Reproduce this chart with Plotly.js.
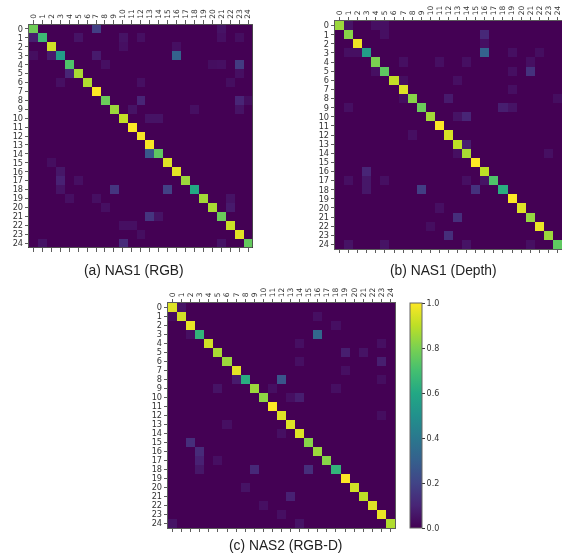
<!DOCTYPE html>
<html><head><meta charset="utf-8">
<script src="https://cdn.plot.ly/plotly-3.0.1.min.js"></script>
<style>html,body{margin:0;padding:0;background:#fff;overflow:hidden}#chart{filter:blur(0.35px)}</style></head>
<body><div id="chart" style="width:562px;height:554px"></div>
<script>
const classes = Array.from({length:25},(_, i)=>i);
const tickLabels = classes.map(String);
const captions = ['(a) NAS1 (RGB)','(b) NAS1 (Depth)','(c) NAS2 (RGB-D)'];

const diagA = [.78,.68,.93,.55,.72,.87,.88,1,.77,.85,.91,1,.99,.99,.75,.95,.96,.85,.6,.86,.87,.77,.92,.96,.76];
const offA = [[0,7,.18],[0,21,.05],[1,0,.08],[1,5,.05],[1,10,.05],[1,12,.04],[1,21,.04],[1,23,.035],[2,10,.04],[2,16,.04],
 [3,0,.035],[3,2,.07],[3,7,.07],[3,16,.31],[4,8,.04],[4,20,.035],[4,21,.04],[4,23,.17],[5,4,.1],[5,23,.04],[6,3,.04],[6,12,.04],[6,22,.035],
 [8,12,.1],[8,23,.1],[8,24,.035],[9,11,.05],[9,18,.04],[9,23,.05],[10,13,.05],[10,14,.05],[14,13,.27],[15,2,.035],[16,3,.06],
 [17,3,.09],[17,5,.04],[18,3,.05],[18,9,.15],[18,15,.19],[19,4,.04],[19,7,.04],[19,22,.05],[20,8,.04],[20,22,.07],
 [21,13,.15],[21,14,.05],[22,10,.04],[22,11,.04],[23,12,.035],[24,1,.05],[24,10,.12],[24,21,.05]];

const diagB = [.85,.82,.98,.55,.8,.75,.91,.95,.82,.77,.86,1,.94,.9,.87,1,.9,.72,.62,1,.95,.84,.97,.85,.75];
const offB = [[0,1,.05],[0,4,.04],[0,5,.04],[1,5,.04],[1,16,.11],[2,16,.04],[3,1,.04],[3,2,.04],[3,16,.31],[3,19,.04],[3,22,.035],
 [4,7,.04],[4,11,.04],[4,14,.04],[4,21,.04],[5,4,.04],[5,19,.04],[5,21,.14],[6,7,.035],[6,13,.04],[7,19,.04],[8,7,.035],[8,12,.07],[8,24,.035],
 [9,1,.04],[9,18,.08],[9,19,.05],[10,13,.05],[10,14,.1],[12,8,.04],[13,14,.08],[14,13,.04],[14,23,.04],[16,3,.1],
 [17,1,.04],[17,3,.06],[17,5,.04],[17,14,.04],[17,16,.05],[18,3,.06],[18,9,.18],[18,15,.14],[20,11,.04],[21,13,.13],[22,10,.035],[23,12,.13],
 [24,1,.05],[24,5,.05],[24,14,.05],[24,21,.04]];

const diagC = [.95,.93,.97,.65,.93,.87,.85,.96,.62,.85,.83,1,.95,.95,.95,.82,.85,.82,.65,1,.93,.9,.95,.97,.88];
const offC = [[0,1,.05],[1,0,.035],[1,16,.04],[2,18,.04],[3,2,.04],[3,16,.33],[4,14,.04],[4,23,.04],[5,19,.08],[5,21,.05],[6,14,.04],[6,23,.08],
 [7,19,.04],[8,7,.07],[8,12,.26],[8,23,.035],[9,5,.05],[9,11,.04],[9,18,.04],[10,13,.04],[10,14,.08],[12,23,.035],[13,6,.04],[14,12,.04],
 [15,2,.13],[16,3,.12],[17,3,.09],[17,5,.04],[18,3,.06],[18,9,.11],[18,15,.13],[20,8,.05],[21,13,.09],[22,10,.04],[23,12,.04],[24,0,.05],[24,14,.05]];

const W = 562, H = 554;
function matrix(diag, off){
  const z = classes.map(r => classes.map(c => r===c ? diag[r] : 0));
  off.forEach(([r,c,v]) => { z[r][c] = v; });
  return z;
}
const viridis = [[0,'#440154'],[.1,'#482576'],[.2,'#414487'],[.3,'#35608d'],[.4,'#2a788e'],[.5,'#21918c'],[.6,'#22a884'],[.7,'#44bf70'],[.8,'#7ad151'],[.9,'#bddf26'],[1,'#fde725']];
function trace(diag, off, i, bar){
  const t = {type:'heatmap', x:classes, y:classes, z:matrix(diag,off), zmin:0, zmax:1, colorscale:viridis,
    xgap:0, ygap:0, xaxis:'x'+(i||''), yaxis:'y'+(i||''), showscale:!!bar, hoverinfo:'skip'};
  if(bar) t.colorbar = {thickness:12, thicknessmode:'pixels', len:225, lenmode:'pixels', x:410/W, xanchor:'left', xpad:0,
    y:1-(303+112.5)/H, yanchor:'middle', ypad:0, tickvals:[0,.2,.4,.6,.8,1], ticktext:['0.0','0.2','0.4','0.6','0.8','1.0'],
    tickfont:{family:'DejaVu Sans',size:8,color:'#333'}, ticks:'outside', ticklen:3, tickcolor:'#333', outlinecolor:'#666', outlinewidth:1};
  return t;
}
function xa(x0,x1,anchor){ return {domain:[x0/W,x1/W], range:[-.5,24.5], side:'top', anchor, tickmode:'array', tickvals:classes, ticktext:tickLabels,
  tickangle:-90, tickfont:{family:'DejaVu Sans',size:7.5,color:'#333'}, ticks:'outside', ticklen:3.5, tickcolor:'#333', tickwidth:.8,
  showline:true, linecolor:'#333', linewidth:.8, mirror:'ticks', showgrid:false, zeroline:false}; }
function ya(y0,y1,anchor){ return {domain:[1-y1/H,1-y0/H], range:[24.5,-.5], anchor, tickmode:'array', tickvals:classes, ticktext:tickLabels,
  tickfont:{family:'DejaVu Sans',size:8.2,color:'#333'}, ticks:'outside', ticklen:3.5, tickcolor:'#333', tickwidth:.8,
  showline:true, linecolor:'#333', linewidth:.8, mirror:true, showgrid:false, zeroline:false}; }
const captionX = [134,443,285], captionY = [270,270,545];
const layout = {width:W, height:H, margin:{l:0,r:0,t:0,b:0}, paper_bgcolor:'#fff', plot_bgcolor:'#fff', showlegend:false,
  xaxis:xa(29,252.5,'y'), yaxis:ya(24.5,247.5,'x'),
  xaxis2:xa(335,562,'y2'), yaxis2:ya(21,249,'x2'),
  xaxis3:xa(168,395,'y3'), yaxis3:ya(303,528,'x3'),
  annotations:captions.map((text,i)=>({text, xref:'paper', yref:'paper', x:captionX[i]/W, y:1-captionY[i]/H, showarrow:false,
    xanchor:'center', yanchor:'middle', font:{family:'Liberation Sans',size:13.8,color:'#222'}}))};
Plotly.newPlot('chart',[trace(diagA,offA,0),trace(diagB,offB,2),trace(diagC,offC,3,true)],layout,{staticPlot:true,displayModeBar:false});
</script></body></html>
